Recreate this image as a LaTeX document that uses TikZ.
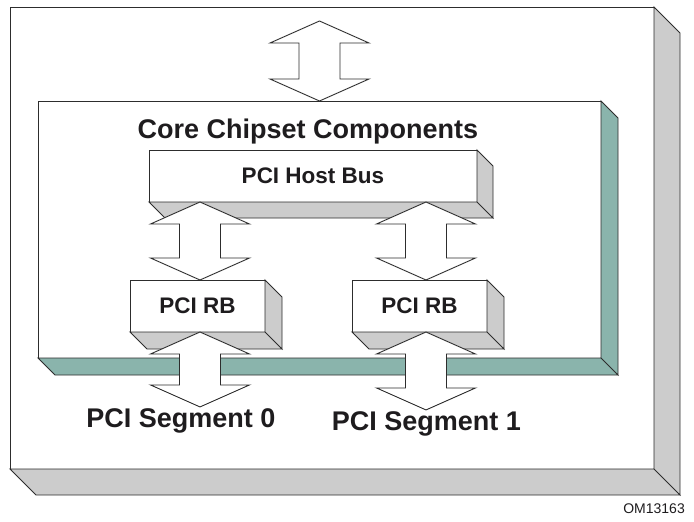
\documentclass[tikz,border=0pt]{standalone}
\usepackage{fontspec}
\setmainfont{Liberation Sans}
\usepackage{tikz}
\usetikzlibrary{calc}

\definecolor{slabgray}{RGB}{204,204,204}
\definecolor{slabteal}{RGB}{138,180,172}
\definecolor{edge}{RGB}{45,45,45}
\definecolor{ink}{RGB}{30,28,30}

\tikzset{
  face/.style={draw=edge, line width=0.9pt, fill=white, inner sep=0pt, outer sep=0pt},
  busarrow/.style={draw=edge, line width=0.9pt, fill=white},
  title/.style={font=\bfseries\fontsize{27}{27}\selectfont, text=ink, anchor=base, inner sep=1pt},
  boxlabel/.style={font=\bfseries\fontsize{22.5}{22.5}\selectfont, text=ink}
}

% the two hidden faces of a slab: node, depth, colour
\newcommand{\slabsides}[3]{%
  \filldraw[draw=edge, line width=0.9pt, fill=#3]
    (#1.north east) -- ++(#2,#2) -- ($(#1.south east)+(#2,#2)$) -- (#1.south east) -- cycle
    (#1.south west) -- (#1.south east) -- ++(#2,#2) -- ($(#1.south west)+(#2,#2)$) -- cycle;
}
% block double arrow between two points on one vertical line
\newcommand{\linkarrow}[2]{%
  \draw[busarrow] let \p1=(#1), \p2=(#2) in
    (\x1,\y1) -- (\x1-49.5pt,\y1-22pt) -- (\x1-20.5pt,\y1-22pt) -- (\x1-20.5pt,\y2+22pt)
    -- (\x1-49.5pt,\y2+22pt) -- (\x1,\y2) -- (\x1+49.5pt,\y2+22pt) -- (\x1+20.5pt,\y2+22pt)
    -- (\x1+20.5pt,\y1-22pt) -- (\x1+49.5pt,\y1-22pt) -- cycle;
}

\begin{document}
\begin{tikzpicture}[x=1pt,y=-1pt]
\useasboundingbox (0,0) rectangle (694,522);
% board
\node[face, minimum width=644pt, minimum height=462pt] (board) at (332,238) {};
\slabsides{board}{26}{slabgray}
\coordinate (ext) at (319.5,21);
\linkarrow{ext}{ext |- 0,101}
% core chipset
\node[face, minimum width=563pt, minimum height=257pt] (core) at (319.5,229.5) {};
\slabsides{core}{17}{slabteal}
\node[title] (coretitle) at (308,138) {Core Chipset Components};
\node[face, boxlabel, minimum width=328pt, minimum height=52pt] (hostbus) at (313,176) {PCI Host Bus};
\slabsides{hostbus}{16}{slabgray}
% columns of the two bridges
\coordinate (colA) at (200,0);
\coordinate (colB) at (426,0);
\linkarrow{colA |- hostbus.south}{colA |- 0,280}
\linkarrow{colB |- hostbus.south}{colB |- 0,280}
\node[face, boxlabel, minimum width=135pt, minimum height=52pt] (rbA) at (197.5,306) {PCI RB};
\slabsides{rbA}{17}{slabgray}
\node[face, boxlabel, minimum width=135pt, minimum height=52pt] (rbB) at (419.5,306) {PCI RB};
\slabsides{rbB}{17}{slabgray}
% segments
\node[title] (seg0) at (181,427) {PCI Segment 0};
\node[title] (seg1) at (426.5,430) {PCI Segment 1};
\linkarrow{colA |- rbA.south}{colA |- seg0.north}
\linkarrow{colB |- rbB.south}{colB |- seg1.north}
\node[anchor=base east, inner sep=0pt, text=ink, font=\fontsize{14}{14}\selectfont] (tag) at (685,513) {OM13163};
\end{tikzpicture}
\end{document}
